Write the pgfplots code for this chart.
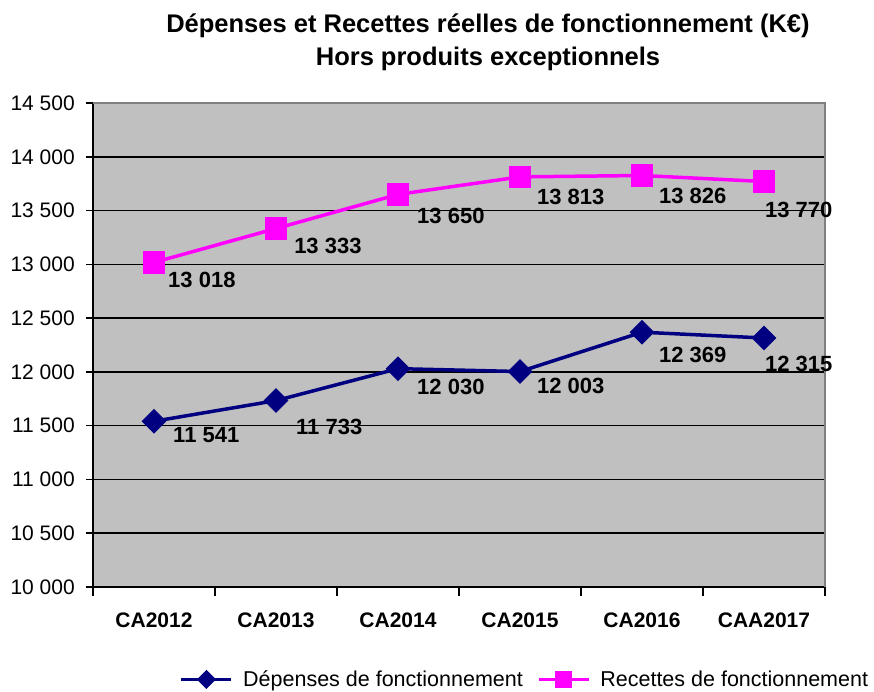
\documentclass[border=0pt]{standalone}
\usepackage{fontspec}
\setmainfont{Liberation Sans}
\usepackage{pgfplots}
\pgfplotsset{compat=1.18}
\definecolor{plotbg}{RGB}{192,192,192}
\definecolor{depcol}{RGB}{0,0,128}
\definecolor{reccol}{RGB}{255,0,255}
\newcommand\fs{\fontsize{21pt}{25pt}\selectfont}
\pgfplotsset{
    smalllegend/.style={legend image code/.code={\draw[mark repeat=2,mark phase=2,##1,mark size=#1]
        plot coordinates {(0pt,0pt) (25pt,0pt) (50pt,0pt)};}},
}

\begin{document}
\begin{tikzpicture}
\useasboundingbox (-93pt,-105pt) rectangle (781pt,587pt);
\begin{axis}[
    at={(0pt,0pt)}, anchor=south west,
    scale only axis, width=732pt, height=484pt,
    xmin=-0.5, xmax=5.5, ymin=10000, ymax=14500,
    axis x line*=bottom, axis y line*=left,
    axis line style={line width=1.5pt, black, -},
    axis background/.style={fill=plotbg},
    xtick={0,...,5},
    xticklabels={CA2012,CA2013,CA2014,CA2015,CA2016,CAA2017},
    ytick={10000,10500,...,14500},
    yticklabels={10 000,10 500,11 000,11 500,12 000,12 500,13 000,13 500,14 000,14 500},
    scaled y ticks=false,
    tick align=outside, major tick length=7pt,
    xtick style={draw=none},
    ytick style={line width=1.5pt, black},
    xticklabel style={font=\fs\bfseries, inner sep=0pt, yshift=-19pt},
    yticklabel style={font=\fs, inner sep=0pt, xshift=-11pt},
    ymajorgrids, major grid style={black, line width=1.5pt},
    clip=false,
    legend style={at={(0.59,-0.191)}, anchor=center, draw=none, fill=none,
        legend columns=2, font=\fontsize{21.5pt}{25pt}\selectfont, inner sep=0pt,
        /tikz/every odd column/.append style={column sep=8pt},
        /tikz/every even column/.append style={column sep=12pt}},
    legend cell align=left,
]
\addplot[depcol, line width=3.5pt, mark=square*, mark size=7pt,
    mark options={rotate=45, solid}, smalllegend=5pt]
    coordinates {(0,11541) (1,11733) (2,12030) (3,12003) (4,12369) (5,12315)};
\addlegendentry{Dépenses de fonctionnement}
\addplot[reccol, line width=3.5pt, mark=square*, mark size=9.5pt,
    mark options={solid}, smalllegend=7pt]
    coordinates {(0,13018) (1,13333) (2,13650) (3,13813) (4,13826) (5,13770)};
\addlegendentry{Recettes de fonctionnement}

\pgfplotsinvokeforeach{-0.5,0.5,1.5,2.5,3.5,4.5,5.5}{
    \draw[black, line width=1.5pt] (axis cs:#1,10000) -- ++(0pt,-9pt);
}
\draw[gray, line width=1.5pt] (rel axis cs:0,1) -- (rel axis cs:1,1) -- (rel axis cs:1,0);

\begin{scope}[every node/.style={anchor=west, inner sep=0pt, font=\fontsize{22pt}{25pt}\selectfont\bfseries}]
\node at (axis cs:0.115,12854) {13 018};
\node at (axis cs:1.148,13170) {13 333};
\node at (axis cs:2.156,13449) {13 650};
\node at (axis cs:3.139,13626) {13 813};
\node at (axis cs:4.139,13635) {13 826};
\node at (axis cs:5.008,13505) {13 770};
\node at (axis cs:0.156,11413) {11 541};
\node at (axis cs:1.164,11488) {11 733};
\node at (axis cs:2.156,11860) {12 030};
\node at (axis cs:3.139,11869) {12 003};
\node at (axis cs:4.139,12157) {12 369};
\node at (axis cs:5.008,12073) {12 315};
\end{scope}
\end{axis}
\node[align=center, font=\fontsize{25.5pt}{33pt}\selectfont\bfseries] at (395pt,545pt)
    {Dépenses et Recettes réelles de fonctionnement (K€)\\Hors produits exceptionnels};
\end{tikzpicture}
\end{document}
